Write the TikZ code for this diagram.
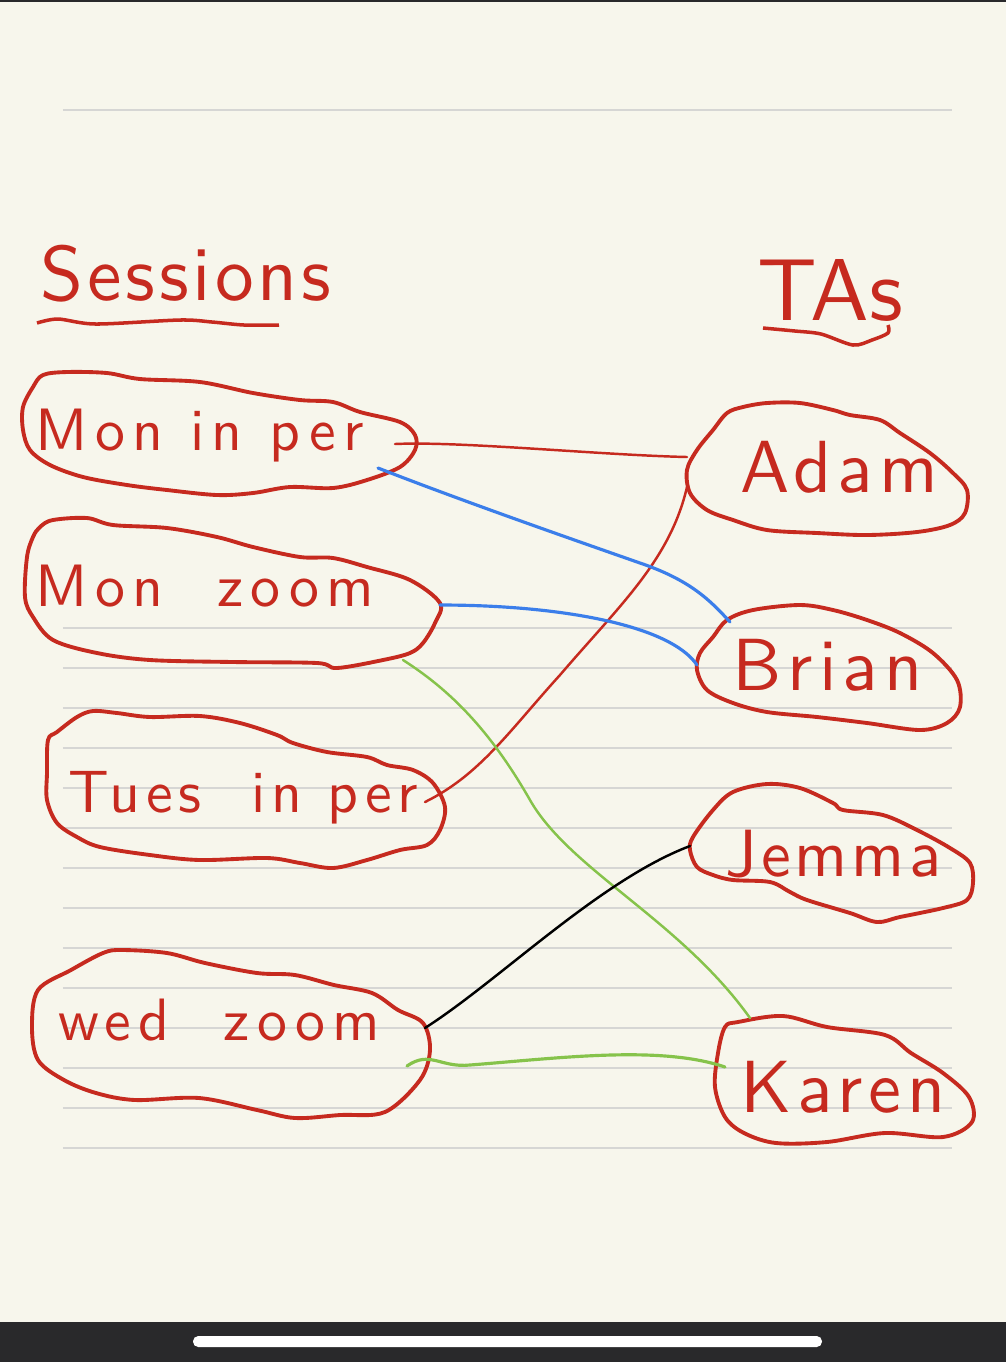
\documentclass[tikz,border=0pt]{standalone}
\usepackage{fontspec}
\newfontfamily\handfont{lmsans10-regular.otf}
\definecolor{paper}{HTML}{F7F6EC}
\definecolor{ink}{HTML}{C62A1F}
\definecolor{blueink}{HTML}{3B7EEA}
\definecolor{greenink}{HTML}{86C34B}
\definecolor{ruling}{HTML}{D6D6D4}
\definecolor{darkbar}{HTML}{29292B}
\begin{document}
\begin{tikzpicture}[x=0.01cm, y=-0.01cm,
    blob/.style={draw=ink, line width=1.1pt, line join=round},
    wire/.style={line width=0.7pt, line cap=round},
    sesstext/.style={text=ink, inner sep=0pt, anchor=base west,
      font={\handfont\fontsize{17}{20}\selectfont\addfontfeatures{LetterSpace=12}}},
    tatext/.style={text=ink, inner sep=0pt, anchor=base west,
      font={\handfont\fontsize{21}{24}\selectfont\addfontfeatures{LetterSpace=8}}}]
    % paper and page frame
    \fill[paper] (0,0) rectangle (1006,1362);
    \useasboundingbox (0,0) rectangle (1006,1362);
    \fill[darkbar] (0,0) rectangle (1006,2);
    \draw[ruling, line width=0.6pt] (63,110) -- (952,110);
    \foreach \y in {628,668,...,1148} {
        \draw[ruling, line width=0.6pt] (63,\y) -- (952,\y);
    }
    \fill[darkbar] (0,1322) rectangle (1006,1362);
    \fill[white, rounded corners=1.5pt] (193,1336) rectangle (822,1347);

    % headings
    \node[sesstext, font={\handfont\fontsize{22}{26}\selectfont\addfontfeatures{LetterSpace=5}}] (sessions) at (40,300) {Sessions};
    \draw[ink, line width=1pt] plot[smooth] coordinates {(37,323) (58,319) (96,324) (180,320) (212,322) (244,325) (279,325)};
    \node[tatext, font={\handfont\fontsize{25}{30}\selectfont}] (tas) at (757,320) {TAs};
    \draw[ink, line width=1pt] plot[smooth] coordinates {(763,328) (795,331) (821,334) (853,345) (872,340) (888,333) (888,325)};

    % session blobs
    \draw[blob] plot[smooth cycle, tension=0.55] coordinates {(33,387) (43,375) (67,372) (107,373) (140,379) (200,382) (253,393) (300,400) (333,402) (360,412) (400,422) (415,435) (415,450) (400,467) (367,480) (333,488) (290,487) (253,493) (217,495) (167,490) (127,485) (83,477) (50,465) (30,450) (23,430) (23,407)};
    \node[sesstext] (monper) at (35,450) {Mon in per};

    \draw[blob] plot[smooth cycle, tension=0.55] coordinates {(40,527) (53,520) (87,518) (113,525) (167,528) (217,537) (253,547) (300,557) (333,558) (367,567) (410,580) (440,603) (435,623) (423,643) (410,653) (383,660) (337,668) (317,663) (233,662) (150,660) (97,653) (53,640) (33,617) (25,597) (27,557) (33,537)};
    \node[sesstext] (monzoom) at (35,606) {Mon \ zoom};

    \draw[blob] plot[smooth cycle, tension=0.55] coordinates {(57,732) (77,717) (93,711) (117,713) (150,717) (200,716) (240,723) (277,735) (293,743) (327,752) (367,757) (387,765) (413,770) (433,783) (445,807) (440,830) (427,845) (400,850) (367,860) (333,868) (300,863) (267,858) (200,860) (150,855) (100,847) (77,837) (57,823) (47,800) (47,773) (48,740)};
    \node[sesstext, font={\handfont\fontsize{17}{20}\selectfont\addfontfeatures{LetterSpace=9}}] (tuesper) at (68,812) {Tues \ in per};

    \draw[blob] plot[smooth cycle, tension=0.55] coordinates {(103,953) (122,950) (167,953) (205,963) (257,973) (295,975) (334,985) (372,993) (398,1010) (423,1023) (430,1050) (420,1080) (385,1112) (340,1115) (295,1118) (257,1110) (199,1098) (135,1100) (96,1093) (64,1080) (38,1060) (32,1027) (38,990) (71,970)};
    \node[sesstext] (wedzoom) at (58,1040) {wed \ zoom};

    % TA blobs
    \draw[blob] plot[smooth cycle, tension=0.55] coordinates {(727,413) (743,407) (767,403) (800,403) (833,410) (850,415) (880,420) (900,433) (930,453) (953,473) (967,490) (965,513) (950,525) (917,532) (867,535) (817,533) (767,530) (733,520) (707,510) (690,493) (687,470) (697,450) (713,430)};
    \node[tatext] (adam) at (740,492) {Adam};

    \draw[blob] plot[smooth cycle, tension=0.55] coordinates {(727,620) (753,610) (800,605) (833,610) (867,620) (900,633) (933,653) (957,680) (960,707) (947,723) (920,730) (867,723) (817,717) (767,712) (733,703) (707,690) (697,670) (700,653) (713,637)};
    \node[tatext] (brian) at (732,690) {Brian};

    \draw[blob] plot[smooth cycle, tension=0.55] coordinates {(693,837) (713,810) (733,792) (767,784) (800,788) (833,803) (843,810) (883,815) (917,830) (950,848) (970,863) (973,883) (967,900) (943,908) (900,917) (877,922) (850,913) (807,900) (790,892) (770,882) (733,880) (713,875) (697,867) (690,850)};
    \node[tatext, font={\handfont\fontsize{19}{22}\selectfont\addfontfeatures{LetterSpace=6}}] (jemma) at (725,876) {Jemma};

    \draw[blob] plot[smooth cycle, tension=0.55] coordinates {(725,1027) (738,1022) (783,1016) (827,1027) (885,1035) (911,1053) (943,1073) (969,1097) (972,1122) (943,1137) (885,1133) (827,1142) (776,1143) (744,1133) (725,1117) (715,1087) (718,1053)};
    \node[tatext] (karen) at (740,1112) {Karen};

    % connector ends on the blobs
    \coordinate (monperR) at (395,444);
    \coordinate (monperB) at (378,468);
    \coordinate (monzoomR) at (440,605);
    \coordinate (monzoomB) at (403,660);
    \coordinate (tuesperR) at (425,802);
    \coordinate (wedzoomT) at (425,1028);
    \coordinate (wedzoomR) at (407,1066);
    \coordinate (adamL) at (687,457);
    \coordinate (adamB) at (687,487);
    \coordinate (brianT) at (730,622);
    \coordinate (brianL) at (697,665);
    \coordinate (jemmaL) at (690,846);
    \coordinate (karenT) at (750,1018);
    \coordinate (karenL) at (725,1067);

    % Draw the links between sessions and TAs
    \draw[wire, ink] (monperR) .. controls (460,441) and (600,455) .. (adamL);
    \draw[wire, ink] (tuesperR) .. controls (480,775) and (510,730) .. (560,675) .. controls (620,605) and (670,560) .. (adamB);
    \draw[wire, blueink, line width=0.9pt] (monperB) .. controls (460,500) and (560,535) .. (640,563) .. controls (690,580) and (710,600) .. (brianT);
    \draw[wire, blueink, line width=0.9pt] (monzoomR) .. controls (560,605) and (670,625) .. (brianL);
    \draw[wire, greenink] (monzoomB) .. controls (450,690) and (490,730) .. (530,800) .. controls (570,870) and (680,920) .. (karenT);
    \draw[wire] (wedzoomT) .. controls (500,980) and (600,880) .. (jemmaL);
    \draw[wire, greenink, line width=0.9pt] (wedzoomR) .. controls (430,1050) and (440,1068) .. (470,1065) .. controls (560,1058) and (660,1045) .. (karenL);
\end{tikzpicture}
\end{document}
